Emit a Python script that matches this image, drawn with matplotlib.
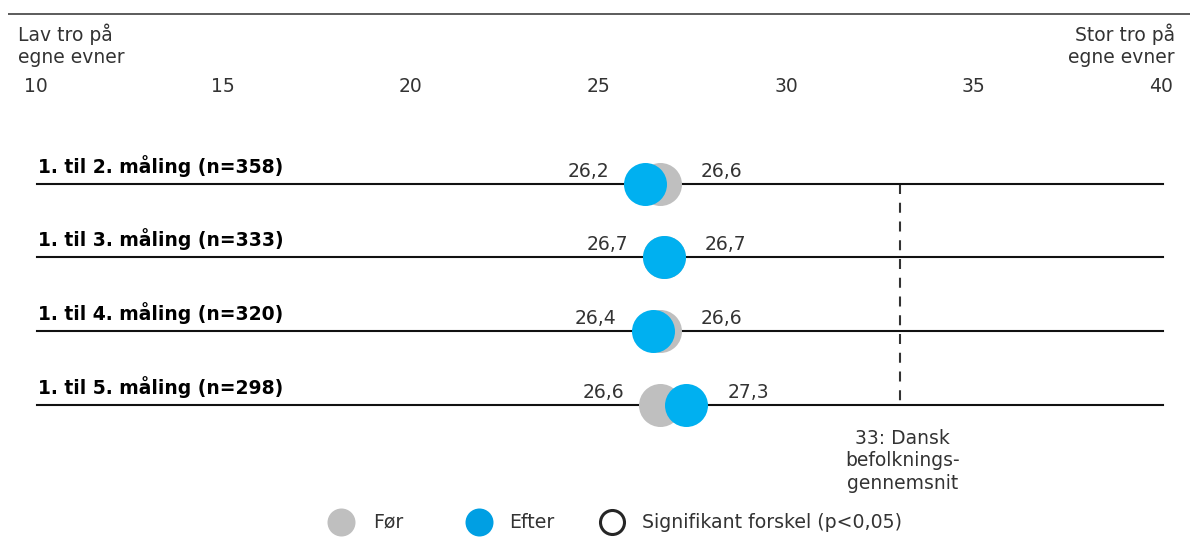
import matplotlib
matplotlib.use("Agg")
import matplotlib.pyplot as plt

# Data
rows = ["1. til 2. måling (n=358)", "1. til 3. måling (n=333)",
        "1. til 4. måling (n=320)", "1. til 5. måling (n=298)"]
before = [26.6, 26.7, 26.6, 26.6]
after = [26.2, 26.7, 26.4, 27.3]
ticks = [10, 15, 20, 25, 30, 35, 40]
national_avg = 33

GREY = "#BFBFBF"
BLUE = "#00B0F0"
TXT = "#333333"
plt.rcParams["font.family"] = ["DejaVu Sans"]

W, H = 1190, 543
fig = plt.figure(figsize=(W / 100, H / 100), dpi=100)
ax = fig.add_axes([0, 0, 1, 1])
ax.set_axis_off()

# x in scale units, y in pixel rows from the top
px_per_unit = (1163 - 37) / 30.0
x0 = 10 - 37 / px_per_unit
x1 = 40 + (W - 1163) / px_per_unit
ax.set_xlim(x0, x1)
ax.set_ylim(H, 0)

def px(n):
    return n / px_per_unit

# top rule
ax.plot([x0 + px(8), x1], [14, 14], color="#404040", lw=1.2, solid_capstyle="butt")

ax.text(x0 + px(18), 45, "Lav tro på\negne evner", ha="left", va="center",
        fontsize=13.5, color=TXT, linespacing=1.17)
ax.text(x1 - px(15), 45, "Stor tro på\negne evner", ha="right", va="center",
        fontsize=13.5, color=TXT, linespacing=1.17)
for t in ticks:
    ax.text(t - px(1.5), 86, str(t), ha="center", va="center", fontsize=13.5, color=TXT)

row_y = [184, 257, 331, 405]

# dashed national average line
ax.plot([national_avg, national_avg], [row_y[0], row_y[-1] - 4], color="#333333",
        lw=1.5, dashes=(4.8, 4.2), zorder=1)
ax.text(national_avg + px(2), 461, "33: Dansk\nbefolknings-\ngennemsnit", ha="center",
        va="center", fontsize=13.5, color=TXT, linespacing=1.22)

r_px = 21.5
s = (2 * r_px * 0.72) ** 2
for y, lab, b, a in zip(row_y, rows, before, after):
    ax.plot([10, 40], [y, y], color="#111111", lw=1.5, zorder=2)
    ax.text(10 + px(1), y - 18, lab, ha="left", va="center", fontsize=13.5,
            fontweight="bold", color="black")
    ax.scatter([b], [y], s=s, color=GREY, linewidths=0, zorder=3)
    ax.scatter([a], [y], s=s, color=BLUE, linewidths=0, zorder=4)
    lo, hi = min(a, b), max(a, b)
    ax.text(lo - px(36), y - 12.5, f"{lo:.1f}".replace(".", ","), ha="right",
            va="center", fontsize=13.5, color=TXT)
    ax.text(hi + px(41), y - 12.5, f"{hi:.1f}".replace(".", ","), ha="left",
            va="center", fontsize=13.5, color=TXT)

# legend
ly = 522
ms = 28 * 0.72
ax.plot([10 + px(341 - 37)], [ly], "o", ms=ms, color=GREY, mew=0)
ax.text(10 + px(373 - 37), ly, "Før", ha="left", va="center", fontsize=13.6, color=TXT)
ax.plot([10 + px(479 - 37)], [ly], "o", ms=ms, color="#009FE3", mew=0)
ax.text(10 + px(509 - 37), ly, "Efter", ha="left", va="center", fontsize=13.6, color=TXT)
ax.plot([10 + px(612 - 37)], [ly], "o", ms=24 * 0.72, mfc="white", mec="#262626", mew=2.2)
ax.text(10 + px(642 - 37), ly, "Signifikant forskel (p<0,05)", ha="left", va="center",
        fontsize=13.6, color=TXT)

fig.savefig("out.png", dpi=100, facecolor="white")
